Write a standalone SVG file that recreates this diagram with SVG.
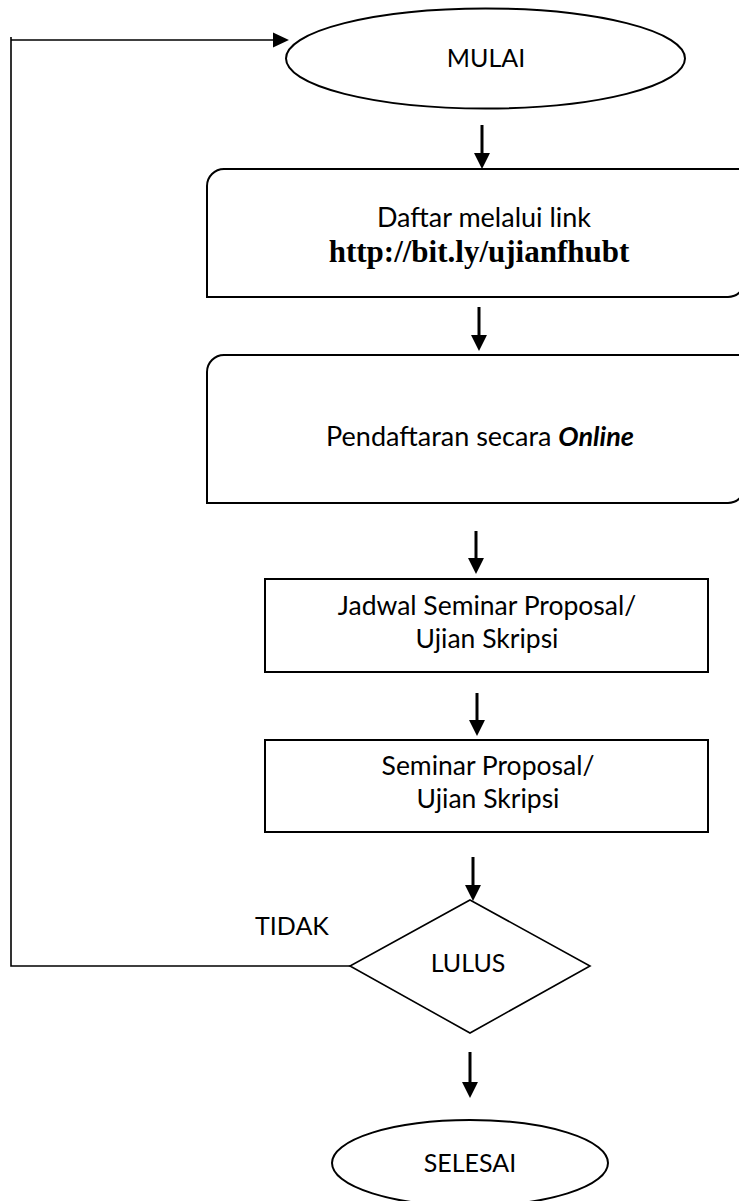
<svg xmlns="http://www.w3.org/2000/svg" width="739" height="1201" viewBox="0 0 739 1201">
<style>
.shape{fill:#fff;stroke:#000;stroke-width:2}
.thin{fill:none;stroke:#000;stroke-width:1.6}
.arr{fill:none;stroke:#000;stroke-width:3}
.t{font-family:Lato,"Open Sans","Liberation Sans",sans-serif;font-size:27px;fill:#000;text-anchor:middle}
.c{font-size:25px}
.m{font-size:26.5px}
.url{font-family:"Liberation Serif","Times New Roman",serif;font-size:31px;font-weight:bold;fill:#000;text-anchor:middle}
</style>
<defs>
<marker id="ah" markerUnits="userSpaceOnUse" markerWidth="16" markerHeight="16" viewBox="0 0 15 15" refX="1" refY="7.5" orient="auto"><path d="M0,0 L15,7.5 L0,15 z" fill="#000"/></marker>
<marker id="ah2" markerUnits="userSpaceOnUse" markerWidth="16" markerHeight="16" viewBox="0 0 15 14" refX="1" refY="7" orient="auto"><path d="M0,0 L15,7 L0,14 z" fill="#000"/></marker>
</defs>
<g id="connectors">
<polyline class="thin" points="350,966 11,966 11,37"/>
<line class="thin" x1="11" y1="40" x2="274" y2="40" marker-end="url(#ah2)"/>
<line class="arr" x1="482" y1="125" x2="482" y2="154" marker-end="url(#ah)"/>
<line class="arr" x1="479" y1="307" x2="479" y2="336" marker-end="url(#ah)"/>
<line class="arr" x1="476" y1="531" x2="476" y2="559" marker-end="url(#ah)"/>
<line class="arr" x1="477" y1="693" x2="477" y2="721" marker-end="url(#ah)"/>
<line class="arr" x1="473" y1="857" x2="473" y2="886" marker-end="url(#ah)"/>
<line class="arr" x1="470" y1="1052" x2="470" y2="1083" marker-end="url(#ah)"/>
</g>
<g id="mulai">
<ellipse class="shape" cx="485.5" cy="58.5" rx="199.5" ry="50"/>
<text class="t c" x="486" y="67">MULAI</text>
</g>
<g id="daftar">
<path class="shape" d="M207,297 V186 A17,17 0 0 1 224,169 H745 V280 A17,17 0 0 1 728,297 Z"/>
<text class="t" x="484" y="227">Daftar melalui link</text>
<text class="url" x="479" y="262">http://bit.ly/ujianfhubt</text>
</g>
<g id="pendaftaran">
<path class="shape" d="M207,503 V372 A17,17 0 0 1 224,355 H745 V486 A17,17 0 0 1 728,503 Z"/>
<text class="t" x="480" y="446">Pendaftaran secara <tspan font-weight="bold" font-style="italic">Online</tspan></text>
</g>
<g id="jadwal">
<rect class="shape" x="265" y="579" width="443" height="93"/>
<text class="t m" x="487" y="615">Jadwal Seminar Proposal/</text>
<text class="t m" x="487" y="648">Ujian Skripsi</text>
</g>
<g id="seminar">
<rect class="shape" x="265" y="740" width="443" height="92"/>
<text class="t m" x="488" y="775">Seminar Proposal/</text>
<text class="t m" x="488" y="808">Ujian Skripsi</text>
</g>
<g id="lulus">
<polygon class="thin" points="470,900 590,966 470,1033 350,966" fill="#fff"/>
<text class="t c" x="468" y="972">LULUS</text>
</g>
<text class="t c" x="292" y="935">TIDAK</text>
<g id="selesai">
<ellipse class="shape" cx="470" cy="1163" rx="138" ry="43"/>
<text class="t c" x="470" y="1172">SELESAI</text>
</g>
</svg>
